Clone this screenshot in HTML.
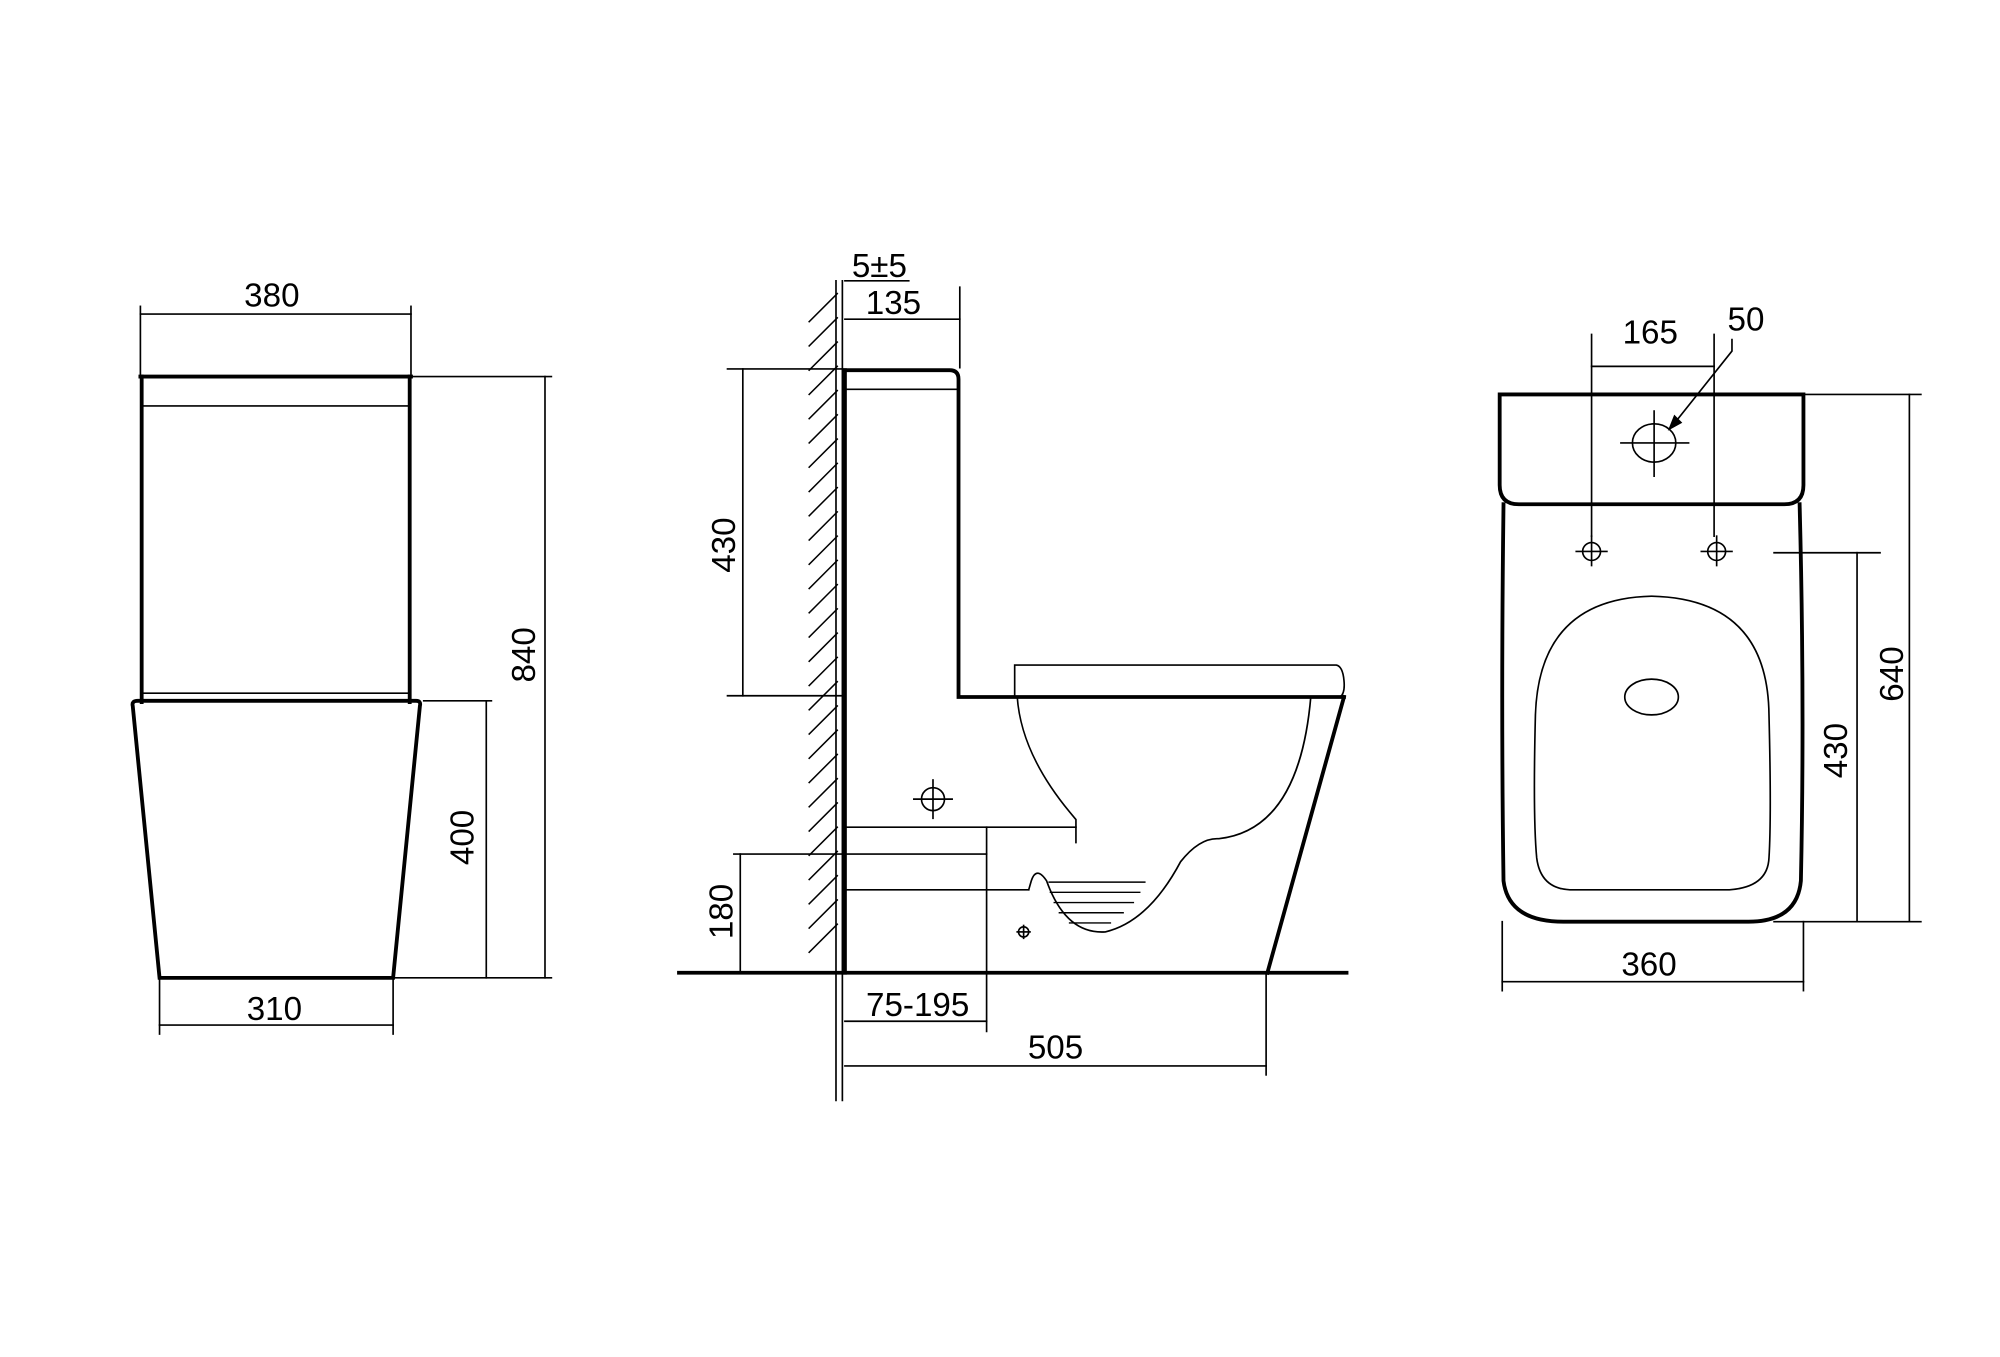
<!DOCTYPE html>
<html><head><meta charset="utf-8"><style>
html,body{margin:0;padding:0;background:#fff;}
svg{display:block;}
text{font-family:"Liberation Sans",Arial,sans-serif;font-size:26px;fill:#000;}
</style></head><body>
<svg width="2000" height="1357" viewBox="0 0 1567 1063" preserveAspectRatio="none" xmlns="http://www.w3.org/2000/svg">
<rect width="1567" height="1063" fill="#fff"/>
<g fill="none" stroke="#000" stroke-width="1.3" stroke-linecap="square">
<!-- LEFT VIEW -->
<line x1="110" y1="240" x2="110" y2="295"/>
<line x1="322" y1="240" x2="322" y2="295"/>
<line x1="110" y1="246" x2="322" y2="246"/>
<path d="M110 295 H322" stroke-width="3"/>
<line x1="112" y1="318" x2="320" y2="318"/>
<path d="M111 295 V550 M321 295 V550" stroke-width="3"/>
<line x1="112" y1="543" x2="320" y2="543"/>
<path d="M108 549 H326 Q330 549 329 553 L308 766 H125 L104 553 Q103 549 108 549 Z" stroke-width="3"/>
<line x1="322" y1="295" x2="432" y2="295"/>
<line x1="308" y1="766" x2="432" y2="766"/>
<line x1="427" y1="295" x2="427" y2="766"/>
<line x1="332" y1="549" x2="385" y2="549"/>
<line x1="381" y1="549" x2="381" y2="766"/>
<line x1="125" y1="766" x2="125" y2="810"/>
<line x1="308" y1="766" x2="308" y2="810"/>
<line x1="125" y1="803" x2="308" y2="803"/>

<!-- MIDDLE VIEW -->
<line x1="655" y1="220" x2="655" y2="862"/>
<line x1="660" y1="220" x2="660" y2="862"/>
<g stroke-width="1.2">
<line x1="634" y1="252" x2="656" y2="230"/>
<line x1="634" y1="271" x2="656" y2="249"/>
<line x1="634" y1="290" x2="656" y2="268"/>
<line x1="634" y1="309" x2="656" y2="287"/>
<line x1="634" y1="328" x2="656" y2="306"/>
<line x1="634" y1="347" x2="656" y2="325"/>
<line x1="634" y1="366" x2="656" y2="344"/>
<line x1="634" y1="385" x2="656" y2="363"/>
<line x1="634" y1="404" x2="656" y2="382"/>
<line x1="634" y1="423" x2="656" y2="401"/>
<line x1="634" y1="442" x2="656" y2="420"/>
<line x1="634" y1="461" x2="656" y2="439"/>
<line x1="634" y1="480" x2="656" y2="458"/>
<line x1="634" y1="499" x2="656" y2="477"/>
<line x1="634" y1="518" x2="656" y2="496"/>
<line x1="634" y1="537" x2="656" y2="515"/>
<line x1="634" y1="556" x2="656" y2="534"/>
<line x1="634" y1="575" x2="656" y2="553"/>
<line x1="634" y1="594" x2="656" y2="572"/>
<line x1="634" y1="613" x2="656" y2="591"/>
<line x1="634" y1="632" x2="656" y2="610"/>
<line x1="634" y1="651" x2="656" y2="629"/>
<line x1="634" y1="670" x2="656" y2="648"/>
<line x1="634" y1="689" x2="656" y2="667"/>
<line x1="634" y1="708" x2="656" y2="686"/>
<line x1="634" y1="727" x2="656" y2="705"/>
<line x1="634" y1="746" x2="656" y2="724"/>
</g>
<path d="M662 290 V762" stroke-width="3"/>
<path d="M662 290 H744 Q751 290 751 297 V546 H1053" stroke-width="3"/>
<line x1="663" y1="305" x2="750" y2="305"/>
<line x1="662" y1="220" x2="712" y2="220"/>
<line x1="662" y1="250" x2="752" y2="250"/>
<line x1="752" y1="225" x2="752" y2="288"/>
<line x1="570" y1="289" x2="660" y2="289"/>
<line x1="570" y1="545" x2="660" y2="545"/>
<line x1="582" y1="289" x2="582" y2="545"/>
<path d="M795 546 V521 H1047 Q1052 522 1053 533 Q1054 543 1050 546"/>
<path d="M1053 546 L993 762" stroke-width="3"/>
<path d="M797 546 Q800 590 838 636 L843 642 V660"/>
<line x1="662" y1="648" x2="843" y2="648"/>
<path d="M1027 546 Q1018 650 955 657 Q940 656 925 675 Q900 722 866 730 Q835 732 820 690 Q812 678 808 690 L806 697"/>
<line x1="662" y1="697" x2="806" y2="697"/>
<line x1="575" y1="669" x2="773" y2="669"/>
<line x1="580" y1="669" x2="580" y2="762"/>
<line x1="773" y1="648" x2="773" y2="808"/>
<g stroke-width="1.1">
<line x1="822" y1="691" x2="897" y2="691"/>
<line x1="823" y1="699" x2="893" y2="699"/>
<line x1="826" y1="707" x2="888" y2="707"/>
<line x1="830" y1="715" x2="880" y2="715"/>
<line x1="838" y1="723" x2="870" y2="723"/>
</g>
<path d="M532 762 H1055" stroke-width="3"/>
<line x1="662" y1="800" x2="773" y2="800"/>
<line x1="992" y1="762" x2="992" y2="842"/>
<line x1="662" y1="835" x2="992" y2="835"/>
<circle cx="731" cy="626" r="9"/>
<line x1="716" y1="626" x2="746" y2="626"/>
<line x1="731" y1="611" x2="731" y2="641"/>
<circle cx="802" cy="730" r="4"/>
<line x1="797" y1="730" x2="807" y2="730"/>
<line x1="802" y1="725" x2="802" y2="735"/>

<!-- RIGHT VIEW -->
<path d="M1175 309 H1413 V380 Q1413 395 1398 395 H1190 Q1175 395 1175 380 Z" stroke-width="3"/>
<path d="M1178 395 Q1176 550 1178 690 Q1182 722 1225 722 H1370 Q1408 722 1411 690 Q1414 550 1410 395" stroke-width="3"/>
<path d="M1294 467 Q1385 469 1386 560 Q1388 640 1386 672 Q1385 695 1355 697 H1230 Q1207 696 1204 672 Q1201 640 1203 560 Q1206 469 1294 467 Z"/>
<ellipse cx="1294" cy="546" rx="21" ry="14"/>
<line x1="1247" y1="262" x2="1247" y2="420"/>
<line x1="1343" y1="262" x2="1343" y2="420"/>
<line x1="1247" y1="287" x2="1343" y2="287"/>
<path d="M1357 266 V275 L1310 334"/>
<path d="M1308 336 L1312 326 L1317 331 Z" fill="#000"/>
<ellipse cx="1296" cy="347" rx="17" ry="15"/>
<line x1="1270" y1="347" x2="1323" y2="347"/>
<line x1="1296" y1="322" x2="1296" y2="373"/>
<circle cx="1247" cy="432" r="7"/>
<line x1="1235" y1="432" x2="1259" y2="432"/>
<line x1="1247" y1="420" x2="1247" y2="443"/>
<circle cx="1345" cy="432" r="7"/>
<line x1="1333" y1="432" x2="1357" y2="432"/>
<line x1="1345" y1="420" x2="1345" y2="443"/>
<line x1="1413" y1="309" x2="1505" y2="309"/>
<line x1="1390" y1="722" x2="1505" y2="722"/>
<line x1="1496" y1="309" x2="1496" y2="722"/>
<line x1="1390" y1="433" x2="1473" y2="433"/>
<line x1="1455" y1="433" x2="1455" y2="722"/>
<line x1="1177" y1="722" x2="1177" y2="776"/>
<line x1="1413" y1="722" x2="1413" y2="776"/>
<line x1="1177" y1="769" x2="1413" y2="769"/>
</g>
<g text-anchor="middle">
<text x="213" y="240">380</text>
<text x="215" y="799">310</text>
<text transform="translate(419,513) rotate(-90)">840</text>
<text transform="translate(371,656) rotate(-90)">400</text>
<text x="689" y="217">5±5</text>
<text x="700" y="246">135</text>
<text transform="translate(576,427) rotate(-90)">430</text>
<text transform="translate(574,714) rotate(-90)">180</text>
<text x="719" y="796">75-195</text>
<text x="827" y="829">505</text>
<text x="1293" y="269">165</text>
<text x="1368" y="259">50</text>
<text transform="translate(1491,528) rotate(-90)">640</text>
<text transform="translate(1447,588) rotate(-90)">430</text>
<text x="1292" y="764">360</text>
</g>
</svg>
</body></html>
